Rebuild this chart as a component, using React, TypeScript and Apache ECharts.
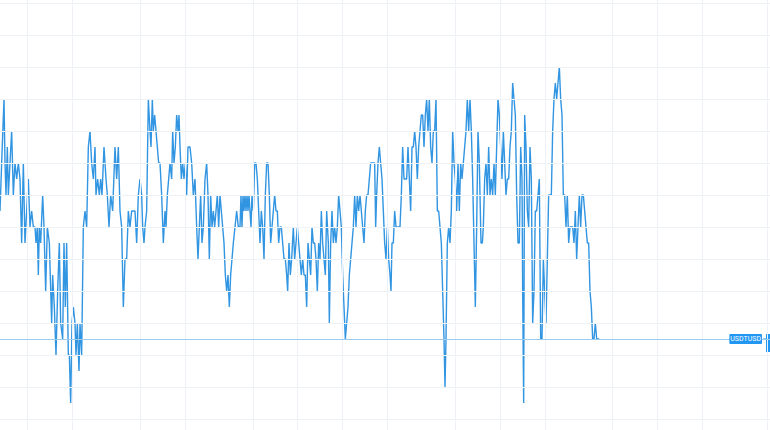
import React, { useEffect, useRef } from "react";
import * as echarts from "echarts";

// time offsets (minutes within each segment) and price offsets in pips (0.0001) from 1.0000
const segmentStart = [0, 360, 720, 1080, 1440];

const minutesA = [0,5,12,15,18,22,25,30,35,40,45,50,55,60,65,70,75,80,85,90,95,100,105,108,112,115,118,122,128,132,137,142,148,155,158,163,168,173,178,182,188,192,196,200,205,208,212,216,220,225,228,232,237,240,245,250,255,260,265,270,275,280,285,288,293,298,302,306,312,318,322,327,332,338,345,350,355];
const pipsA = [8,11,15,11,9,12,9,11,13,9,11,10,11,10,6,11,6,8,10,7,8,7,7,6,7,4,7,6,9,7,3,7,6,1,4,2,-1,3,6,1,0,6,2,6,-1,-1,-4,1,2,1,-1,1,-2,1,-1,7,8,7,12,13,11,10,12,9,10,9,10,9,12,10,9,7,9,8,12,10,12];

const minutesB = [0,5,10,15,20,25,30,35,40,45,50,55,60,65,68,72,75,80,85,90,93,97,100,104,108,112,116,120,125,130,135,138,142,146,150,155,158,162,166,170,174,177,180,184,188,192,196,200,204,210,215,220,225,230,234,238,242,246,250,255,260,264,268,272,276,280,284,288,292,296,300,304,308,312,316,320,324,328,332,336,340,345,350,355];
const pipsB = [8,7,2,5,5,8,7,8,8,8,6,9,10,9,7,6,7,8,15,13,12,15,13,14,13,12,11,11,9,6,8,7,9,10,11,10,13,11,12,14,13,14,12,10,11,10,11,9,12,12,11,9,10,7,5,7,9,6,7,10,11,9,5,9,7,8,7,8,9,7,9,8,7,6,4,3,4,2,4,5,6,7,8,7];

const minutesC = [0,3,6,9,12,15,18,21,24,27,30,33,36,40,44,48,52,56,60,64,68,72,76,80,84,88,92,96,100,104,108,112,116,120,124,128,132,136,140,143,147,151,155,160,164,168,172,176,180,184,188,192,196,200,204,208,212,216,220,224,228,232,236,240,244,248,252,256,260,265,268,272,276,280,284,288,292,296,300,304,308,312,316,320,324,328,332,336,340,344,348,352,356];
const pipsC = [7,9,7,9,8,9,8,9,8,9,8,7,9,8,11,11,10,8,6,8,7,5,9,11,11,9,6,7,8,9,8,8,6,7,7,6,5,5,4,3,6,4,5,7,5,6,7,6,5,4,5,4,4,2,6,5,4,7,6,6,5,3,6,5,8,6,5,4,8,6,1,6,8,6,7,6,7,9,8,7,4,2,0,1,2,4,5,6,7,9,7,9,8];

const minutesD = [0,4,8,12,16,20,24,28,32,36,40,44,47,50,54,58,62,66,70,74,78,82,86,90,93,96,100,104,108,112,116,120,124,128,132,136,140,144,148,152,156,160,164,168,172,176,180,184,188,192,196,200,204,208,212,216,220,224,228,232,236,240,244,248,252,255,258,262,266,270,274,278,282,286,290,294,298,302,306,310,314,318,322,326,330,334,338,342,346,350,354,358];
const pipsD = [9,8,7,6,8,9,9,10,11,11,11,11,7,9,11,12,11,10,8,6,5,7,5,4,3,6,6,8,7,7,7,7,9,12,10,10,10,12,10,8,12,12,13,12,10,12,13,14,14,12,14,15,13,15,12,11,13,13,15,8,8,7,6,3,0,-3,0,6,7,6,8,13,11,10,8,11,8,11,10,11,12,13,15,13,15,13,10,6,2,7,13,11];

const minutesE = [0,3,7,10,14,18,22,26,30,34,38,42,46,50,54,58,62,66,70,74,78,82,86,90,94,98,102,106,110,114,118,122,126,128,131,134,138,142,146,150,154,158,162,166,170,174,178,182,186,190,194,198,202,206,210,214,218,222,226,230,234,238,242,246,250,254,258,262,266,270,274,278,282,286,290,294,298,302,306,310,314,318,322,326,330,334,338,342,346,350,354,358];
const pipsE = [11,6,6,7,10,11,9,12,9,10,9,11,9,12,15,14,12,10,13,11,9,10,10,12,13,16,15,14,9,6,6,12,10,3,-4,14,12,8,7,12,10,1,3,8,8,9,10,0,0,5,3,1,5,9,9,9,13,15,16,15,16,17,15,14,9,9,7,9,6,7,7,7,6,8,5,7,9,7,9,9,8,7,6,6,3,2,0,0,1,0,0,0];

const gridMinutes = [81, 216, 420, 555, 759, 891, 1026, 1161, 1365, 1500, 1635, 1836, 1971, 2106, 2301];
const gridPips = [-5, -3, -1, 1, 3, 5, 7, 9, 11, 13, 15, 17, 19, 21];
const lastPrice = 1.0;
const symbolName = "USDTUSD";

const toPrice = (p: number) => 1 + p / 10000;

export default function App() {
  const ref = useRef<HTMLDivElement>(null);
  useEffect(() => {
    const chart = echarts.init(ref.current!, null, { renderer: "svg" });
    const segs: [number[], number[]][] = [
      [minutesA, pipsA],
      [minutesB, pipsB],
      [minutesC, pipsC],
      [minutesD, pipsD],
      [minutesE, pipsE],
    ];
    const data: [number, number][] = [];
    segs.forEach(([m, p], i) => {
      m.forEach((t, j) => data.push([segmentStart[i] + t, toPrice(p[j])]));
    });
    const gridStyle = { color: "#eef1f6", width: 1, type: "solid" as const };
    chart.setOption({
      animation: false,
      grid: { left: 0, right: 0, top: 0, bottom: 0 },
      xAxis: { type: "value", min: 0, max: 2310, show: false },
      yAxis: { type: "value", min: toPrice(-5.6875), max: toPrice(21.1875), show: false, scale: true },
      series: [
        {
          type: "line",
          data,
          z: 1,
          silent: true,
          symbol: "none",
          lineStyle: { opacity: 0 },
          markLine: {
            symbol: "none",
            silent: true,
            animation: false,
            precision: 8,
            label: { show: false },
            lineStyle: gridStyle,
            data: [
              ...gridMinutes.map((m) => ({ xAxis: m })),
              ...gridPips.map((p) => ({ yAxis: toPrice(p) })),
            ],
          },
        },
        {
          type: "line",
          data,
          z: 3,
          symbol: "none",
          showSymbol: false,
          lineStyle: { color: "#3195e2", width: 1.4 },
          markLine: {
            symbol: "none",
            silent: true,
            animation: false,
            precision: 8,
            lineStyle: { color: "#9ccbf0", width: 1, type: "solid" },
            label: {
              show: true,
              position: "insideEnd",
              formatter: symbolName,
              backgroundColor: "#2196f3",
              color: "#ffffff",
              fontFamily: "Roboto, sans-serif",
              fontSize: 7,
              padding: [2, 1, 1, 1],
              borderRadius: 1,
              distance: 8,
            },
            data: [{ yAxis: lastPrice }],
          },
        },
      ],
    });
    const py = chart.convertToPixel({ gridIndex: 0 }, [0, lastPrice]) as number[];
    chart.setOption({
      graphic: [
        { type: "line", shape: { x1: 763, y1: py[1], x2: 766, y2: py[1] }, style: { stroke: "#2196f3", lineWidth: 1 } },
        { type: "rect", shape: { x: 766, y: py[1] - 5, width: 6, height: 18 }, style: { fill: "#2196f3" } },
      ],
    });
    return () => chart.dispose();
  }, []);
  return (
    <div
      ref={ref}
      style={{ position: "fixed", left: 0, top: 0, width: 770, height: 430, background: "#ffffff" }}
    />
  );
}
